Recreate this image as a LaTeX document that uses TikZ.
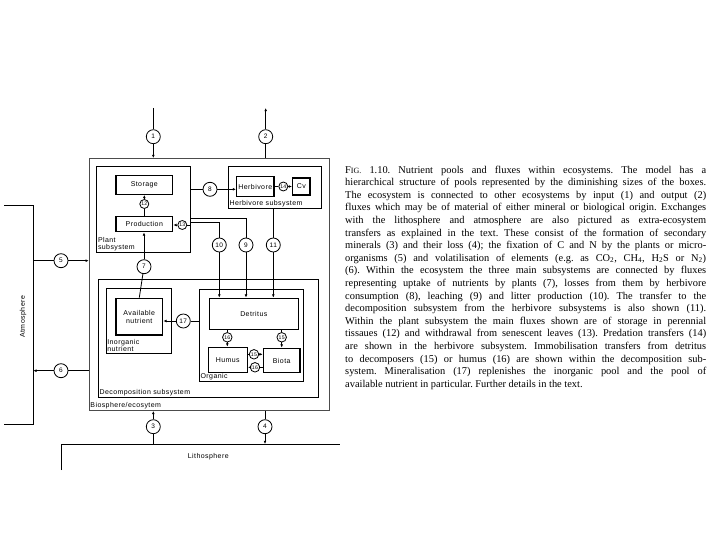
\documentclass[tikz,border=0pt]{standalone}
\usepackage{fontspec}
\setmainfont{Liberation Serif}
\newfontfamily\boxfont[LetterSpace=6]{Liberation Sans}
\usetikzlibrary{positioning,arrows.meta,calc}
\newcommand{\figsc}{F{\fontsize{8}{12.6}\selectfont IG.}}

\begin{document}
\begin{tikzpicture}[x=1pt, y=-1pt,
    pool/.style={draw=black, line width=1.4pt, inner sep=0pt, align=center, font=\boxfont\fontsize{7}{8}\selectfont},
    subsys/.style={draw=black, line width=0.8pt, inner sep=0pt},
    flux/.style={draw=black, circle, line width=0.8pt, minimum size=14pt, inner sep=0pt, font=\boxfont\fontsize{6.5}{6.5}\selectfont},
    sflux/.style={flux, minimum size=9pt, font=\boxfont\fontsize{5.2}{5.2}\selectfont},
    lbl/.style={inner sep=1.5pt, align=left, font=\boxfont\fontsize{7}{7.5}\selectfont},
    arr/.style={-{Latex[length=3.2pt,width=2.8pt]}, line width=0.8pt},
    ln/.style={line width=0.8pt}
]
    \fill[white] (0,0) rectangle (720,540);
    \useasboundingbox (0,0) rectangle (720,540);

    % Subsystems
    \node[subsys, draw=black!70, line width=0.5pt, minimum width=240pt, minimum height=252.4pt] (eco) at (209,284.5) {};
    \node[subsys, minimum width=93.8pt, minimum height=85.6pt] (plant) at (143.6,209.5) {};
    \node[subsys, minimum width=93.4pt, minimum height=41.6pt] (herbsub) at (275,187.5) {};
    \node[subsys, minimum width=220pt, minimum height=118pt] (decomp) at (208.3,338.3) {};
    \node[subsys, minimum width=65.7pt, minimum height=65pt] (inorg) at (138.85,320.8) {};
    \node[subsys, minimum width=104pt, minimum height=92.4pt] (organic) at (251.3,335.5) {};

    \node[lbl, anchor=south west] at (plant.south west) {Plant\\subsystem};
    \node[lbl, anchor=south west] at (herbsub.south west) {Herbivore subsystem};
    \node[lbl, anchor=south west] at (decomp.south west) {Decomposition subsystem};
    \node[lbl, anchor=south west] at (inorg.south west) {Inorganic\\nutrient};
    \node[lbl, anchor=south west] at (organic.south west) {Organic};
    \node[lbl, anchor=south west] at (eco.south west) {Biosphere/ecosytem};

    % Pools
    \node[pool, minimum width=56.7pt, minimum height=18.6pt] (storage) at (144.3,185) {Storage};
    \node[pool, minimum width=56.7pt, minimum height=15pt] (production) at (144.3,224.2) {Production};
    \node[pool, minimum width=37.3pt, minimum height=20pt] (herbivore) at (255.3,186.5) {Herbivore};
    \node[pool, minimum width=17.3pt, minimum height=17.3pt] (cv) at (301.3,186.5) {Cv};
    \node[pool, minimum width=46.7pt, minimum height=36.7pt] (avail) at (139.3,316.7) {Available\\nutrient};
    \node[pool, minimum width=89pt, minimum height=31pt] (detritus) at (253.8,313.8) {Detritus};
    \node[pool, minimum width=39pt, minimum height=25.4pt] (humus) at (227.8,360) {Humus};
    \node[pool, minimum width=36.7pt, minimum height=24.4pt] (biota) at (281.7,360.5) {Biota};

    % Fluxes
    \node[flux] (f1) at (153.3,136.7) {1};
    \node[flux] (f2) at (265.7,136.7) {2};
    \node[flux] (f3) at (153.3,426.7) {3};
    \node[flux] (f4) at (265,426.7) {4};
    \node[flux] (f5) at (61,260.7) {5};
    \node[flux] (f6) at (61,370.7) {6};
    \node[flux] (f7) at (144,266.7) {7};
    \node[flux] (f8) at (210,189.3) {8};
    \node[flux] (f10) at (219.3,245) {10};
    \node[flux] (f9) at (246,245) {9};
    \node[flux] (f11) at (273.3,245) {11};
    \node[flux] (f17) at (183.3,321) {17};
    \node[sflux] (f12) at (144.3,204) {12};
    \node[sflux] (f13) at (182.3,225) {13};
    \node[sflux] (f14) at (283.3,186.5) {14};
    \node[sflux, minimum size=9.5pt] (f16a) at (227.3,337.3) {16};
    \node[sflux, minimum size=9.5pt] (f15a) at (281.7,337.3) {15};
    \node[sflux, minimum size=9.5pt] (f15b) at (254,354.3) {15};
    \node[sflux, minimum size=9.5pt] (f16b) at (255,367.3) {16};

    % Atmosphere and lithosphere
    \coordinate (atmtop) at (4,205);
    \coordinate (atmbot) at (4,424);
    \draw[ln] (atmtop) -- (33.3,205) -- (33.3,424) -- (atmbot);
    \node[lbl, rotate=90] (atm) at (23,316.7) {Atmosphere};
    \coordinate (lithl) at (61.7,470);
    \coordinate (lithr) at (340,444);
    \draw[ln] (lithl) -- (61.7,444) -- (lithr);
    \node[lbl] (lith) at (208.3,456.7) {Lithosphere};
    \coordinate (in1) at (153.3,108);
    \coordinate (out2) at (265.7,108);

    \draw[ln] (in1) -- (f1); \draw[arr] (f1) -- (f1 |- eco.north);
    \draw[ln] (f2 |- eco.north) -- (f2); \draw[arr] (f2) -- (out2);
    \draw[ln] (f3 |- lithr) -- (f3); \draw[arr] (f3) -- (f3 |- eco.south);
    \draw[ln] (f4 |- eco.south) -- (f4); \draw[arr] (f4) -- (f4 |- lithr);
    \draw[ln] (33.3,260.7) -- (f5); \draw[arr] (f5) -- (f5 -| eco.west);
    \draw[ln] (f6 -| eco.west) -- (f6); \draw[arr] (f6) -- (33.3,370.7);

    % Within the ecosystem
    \draw[ln] (production.north) -- (f12); \draw[arr] (f12) -- (storage.south);
    \draw[ln] (avail.north) -- (f7); \draw[arr] (f7) -- (f7 |- production.south);
    \draw[ln] (plant.east |- f8) -- (f8); \draw[arr] (f8) -- (f8 -| herbivore.west);
    \draw[ln] (herbivore.east) -- (f14); \draw[arr] (f14) -- (cv.west);
    \draw[ln] (plant.east |- f13) -- (f13); \draw[arr] (f13) -- (f13 -| production.east);
    \draw[ln] (plant.east |- 0,218.5) -| (f9); \draw[arr] (f9) -- (f9 |- detritus.north);
    \draw[ln] (plant.east |- 0,222) -| (f10); \draw[arr] (f10) -- (f10 |- detritus.north);
    \draw[ln] (f11 |- herbsub.south) -- (f11); \draw[arr] (f11) -- (f11 |- detritus.north);
    \draw[ln] (organic.west |- f17) -- (f17); \draw[arr] (f17) -- (f17 -| avail.east);
    \draw[ln] (f16a |- detritus.south) -- (f16a); \draw[arr] (f16a) -- (f16a |- humus.north);
    \draw[ln] (f15a |- detritus.south) -- (f15a); \draw[arr] (f15a) -- (f15a |- biota.north);
    \draw[ln] (humus.east |- f15b) -- (f15b); \draw[arr] (f15b) -- (f15b -| biota.west);
    \draw[ln] (biota.west |- f16b) -- (f16b); \draw[arr] (f16b) -- (f16b -| humus.east);

    % Caption
    \node[anchor=north west, inner sep=0pt, text width=361pt, align=justify, font=\frenchspacing\fontsize{10.4}{12.6}\selectfont] (caption) at (345,165.5) {%
    \figsc\ 1.10. Nutrient pools and fluxes within ecosystems. The model has a\linebreak
    hierarchical structure of pools represented by the diminishing sizes of the boxes.\linebreak
    The ecosystem is connected to other ecosystems by input (1) and output (2)\linebreak
    fluxes which may be of material of either mineral or biological origin. Exchanges\linebreak
    with the lithosphere and atmosphere are also pictured as extra-ecosystem\linebreak
    transfers as explained in the text. These consist of the formation of secondary\linebreak
    minerals (3) and their loss (4); the fixation of C and N by the plants or micro-\linebreak
    organisms (5) and volatilisation of elements (e.g.\ as CO\textsubscript{2}, CH\textsubscript{4}, H\textsubscript{2}S or N\textsubscript{2})\linebreak
    (6). Within the ecosystem the three main subsystems are connected by fluxes\linebreak
    representing uptake of nutrients by plants (7), losses from them by herbivore\linebreak
    consumption (8), leaching (9) and litter production (10). The transfer to the\linebreak
    decomposition subsystem from the herbivore subsystems is also shown (11).\linebreak
    Within the plant subsystem the main fluxes shown are of storage in perennial\linebreak
    tissaues (12) and withdrawal from senescent leaves (13). Predation transfers (14)\linebreak
    are shown in the herbivore subsystem. Immobilisation transfers from detritus\linebreak
    to decomposers (15) or humus (16) are shown within the decomposition sub-\linebreak
    system. Mineralisation (17) replenishes the inorganic pool and the pool of\linebreak
    available nutrient in particular. Further details in the text.};
\end{tikzpicture}
\end{document}
